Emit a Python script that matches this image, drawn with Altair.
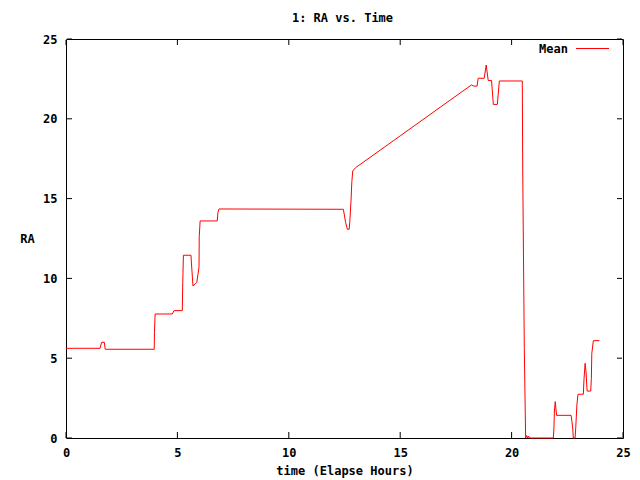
import altair as alt
import pandas as pd

# ---- data ----
time_h = [0.0, 1.53, 1.60, 1.72, 1.76, 3.96, 3.97, 4.00, 4.77, 4.85, 5.22, 5.24, 5.27,
          5.61, 5.63, 5.70, 5.87, 5.97, 5.98, 6.02, 6.79, 6.82, 6.87, 12.45, 12.55,
          12.63, 12.71, 12.74, 12.79, 12.83, 12.87, 13.00, 15.00, 16.79, 18.20, 18.30,
          18.45, 18.50, 18.77, 18.86, 18.95, 19.10, 19.18, 19.36, 19.45, 20.48, 20.50,
          20.57, 20.63, 20.68, 20.72, 20.76, 20.80, 21.87, 21.90, 21.92, 21.96, 21.99,
          22.02, 22.67, 22.71, 22.75, 22.77, 22.85, 22.88, 22.93, 22.98, 23.22, 23.25,
          23.30, 23.34, 23.37, 23.39, 23.55, 23.58, 23.60, 23.67, 23.94]
ra = [5.62, 5.62, 6.00, 6.00, 5.56, 5.56, 6.60, 7.77, 7.77, 7.98, 7.98, 9.73, 11.45,
      11.45, 10.96, 9.52, 9.75, 10.70, 12.60, 13.60, 13.60, 14.14, 14.35, 14.33, 13.50,
      13.08, 13.08, 13.60, 14.80, 16.06, 16.73, 16.94, 18.93, 20.72, 22.12, 22.05,
      22.05, 22.54, 22.54, 23.37, 22.40, 22.40, 20.90, 20.90, 22.37, 22.37, 16.73,
      5.62, 0.0, 0.15, 0.0, 0.12, 0.0, 0.0, 0.56, 1.69, 2.28, 1.82,
      1.42, 1.42, 1.02, 0.50, 0.0, 0.0, 0.67, 2.07, 2.74, 2.74, 3.70,
      4.68, 4.15, 3.38, 2.94, 2.94, 3.74, 5.30, 6.10, 6.10]
series_name = ["Mean"]
x_ticks = [0, 5, 10, 15, 20, 25]
y_ticks = [0, 5, 10, 15, 20, 25]
title_text = ["1: RA vs. Time"]
x_title = "time (Elapse Hours)"
y_title = "RA"

W, H = 557, 399
FONT = "DejaVu Sans Mono"
FS = 12
TICK = 6

df = pd.DataFrame({"t": time_h, "ra": ra, "i": list(range(len(time_h)))})
xt = pd.DataFrame({"v": x_ticks})
yt = pd.DataFrame({"v": y_ticks})
leg = pd.DataFrame({"name": series_name})
ttl = pd.DataFrame({"title": title_text})

xscale = alt.Scale(domain=[0, 25], nice=False, zero=False)
yscale = alt.Scale(domain=[0, 25], nice=False, zero=False)

xaxis = alt.Axis(values=x_ticks, ticks=False, domain=True, domainColor="black",
                 domainWidth=1, grid=False,
                 labelFont=FONT, labelFontSize=FS, labelFontWeight="bold",
                 labelColor="black", labelPadding=9, labelFlush=False,
                 title=x_title, titleFont=FONT, titleFontSize=FS,
                 titleFontWeight="bold", titleColor="black",
                 titleBaseline="middle", titleY=32)
yaxis = alt.Axis(values=y_ticks, ticks=False, domain=True, domainColor="black",
                 domainWidth=1, grid=False,
                 labelFont=FONT, labelFontSize=FS, labelFontWeight="bold",
                 labelColor="black", labelPadding=9, labelFlush=False,
                 title=y_title, titleFont=FONT, titleFontSize=FS,
                 titleFontWeight="bold", titleColor="black", titleAngle=0,
                 titleAlign="center", titleBaseline="middle",
                 titleX=-39, titleY=H / 2)

top_axis = alt.Axis(orient="top", values=x_ticks, ticks=False, labels=False,
                    domain=True, domainColor="black", domainWidth=1, grid=False, title=None)
right_axis = alt.Axis(orient="right", values=y_ticks, ticks=False, labels=False,
                      domain=True, domainColor="black", domainWidth=1, grid=False, title=None)

line = alt.Chart(df).mark_line(color="#ff0000", strokeWidth=1).encode(
    x=alt.X("t:Q", scale=xscale, axis=xaxis),
    y=alt.Y("ra:Q", scale=yscale, axis=yaxis),
    order="i:Q",
)

xt_bottom = alt.Chart(xt).mark_rule(color="black", strokeWidth=1).encode(
    x=alt.X("v:Q", scale=xscale, axis=top_axis), y=alt.value(H), y2=alt.value(H - TICK))
xt_top = alt.Chart(xt).mark_rule(color="black", strokeWidth=1).encode(
    x=alt.X("v:Q", scale=xscale, axis=top_axis), y=alt.value(1), y2=alt.value(TICK))
yt_left = alt.Chart(yt).mark_rule(color="black", strokeWidth=1).encode(
    y=alt.Y("v:Q", scale=yscale, axis=right_axis), x=alt.value(1), x2=alt.value(TICK))
yt_right = alt.Chart(yt).mark_rule(color="black", strokeWidth=1).encode(
    y=alt.Y("v:Q", scale=yscale, axis=right_axis), x=alt.value(W - 1), x2=alt.value(W - TICK))

ticks = alt.layer(xt_bottom, xt_top, yt_left, yt_right)

leg_text = alt.Chart(leg).mark_text(
    font=FONT, fontSize=FS, fontWeight="bold", color="black",
    align="right", baseline="middle").encode(
    text="name:N", x=alt.value(502), y=alt.value(9.5))
leg_line = alt.Chart(leg).mark_rule(color="#ff0000", strokeWidth=1).encode(
    x=alt.value(510), x2=alt.value(543), y=alt.value(9.5))

title_mark = alt.Chart(ttl).mark_text(
    font=FONT, fontSize=FS, fontWeight="bold", color="black",
    align="center", baseline="middle").encode(
    text="title:N", x=alt.value(276.5), y=alt.value(-21))

chart = alt.layer(
    line, ticks, leg_text, leg_line, title_mark
).resolve_axis(x="independent", y="independent").properties(
    width=W, height=H,
    autosize=alt.AutoSizeParams(type="none"),
    padding={"left": 58, "top": 31, "right": 9, "bottom": 40},
    background="white",
).configure_view(stroke=None)

chart.save("out.html", embed_options={"renderer": "svg", "actions": False})
